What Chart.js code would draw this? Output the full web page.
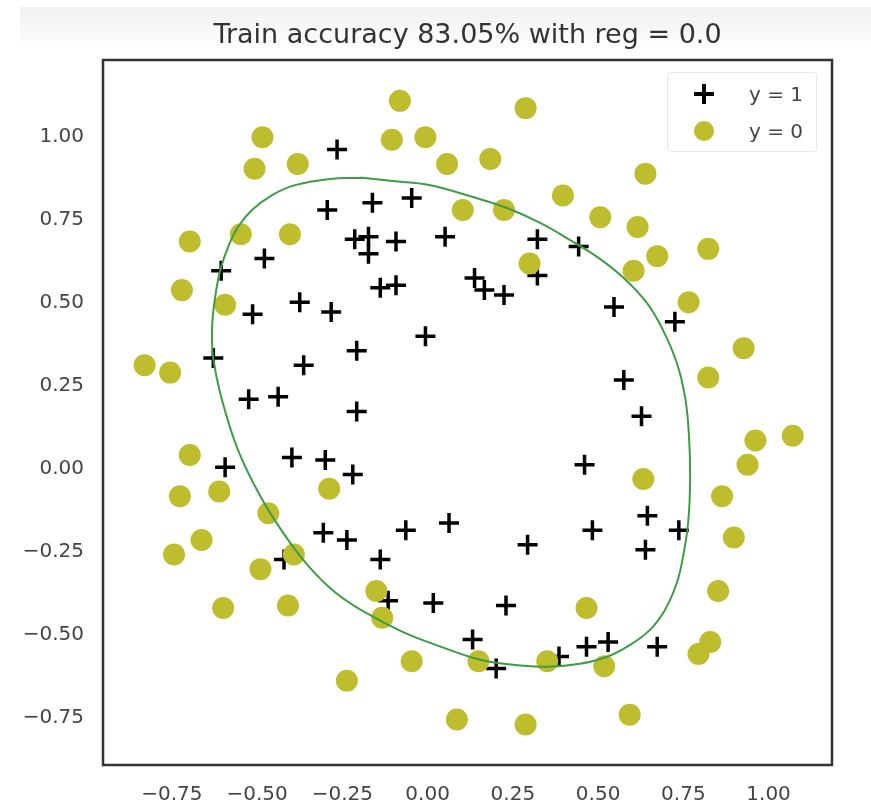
<!DOCTYPE html>
<html>
<head>
<meta charset="utf-8">
<script src="https://cdn.jsdelivr.net/npm/chart.js@4.4.1/dist/chart.umd.min.js"></script>
<style>
  body { margin: 0; background: #fff; }
  #wrap { position: relative; width: 871px; height: 805px; }
  #band { position: absolute; left: 20px; top: 7px; width: 851px; height: 34px;
          background: linear-gradient(#f1f1f1, #fbfbfb); }
  #title { position: absolute; left: 103px; top: 18px; width: 729px; text-align: center;
           font-family: 'DejaVu Sans', sans-serif; font-size: 27px; line-height: 32px;
           color: #333; white-space: nowrap; }
  #chart { position: absolute; left: 0; top: 0; }
  #legend { position: absolute; left: 667px; top: 72px; width: 150px; height: 80px;
            box-sizing: border-box; border: 1px solid #e8e8e8; border-radius: 4px;
            background: rgba(255,255,255,0.85); font-family: 'DejaVu Sans', sans-serif;
            font-size: 20px; color: #444; }
  .row { position: absolute; left: 0; width: 100%; height: 24px; }
  .row .txt { position: absolute; left: 81px; top: 0; line-height: 24px; white-space: nowrap; }
  .sym { position: absolute; left: 26px; top: 2px; width: 20px; height: 20px; }
  .sym.dot { border-radius: 50%; }
  .sym.cross::before, .sym.cross::after { content: ''; position: absolute; background: #000; }
  .sym.cross::before { left: 0; top: 8.25px; width: 20px; height: 3.5px; }
  .sym.cross::after { left: 8.25px; top: 0; width: 3.5px; height: 20px; }
</style>
</head>
<body>
<div id="wrap">
  <div id="band"></div>
  <canvas id="chart" width="871" height="805"></canvas>
  <div id="title"></div>
  <div id="legend"></div>
</div>
<script>
const titleText = 'Train accuracy 83.05% with reg = 0.0';

// y = 1 (accepted)
const posX = [0.051267, -0.092742, -0.21371, -0.375, -0.51325, -0.52477, -0.39804, -0.30588, 0.016705, 0.13191,
  0.38537, 0.52938, 0.63882, 0.73675, 0.54666, 0.322, 0.16647, -0.046659, -0.17339, -0.47869,
  -0.60541, -0.62846, -0.59389, -0.42108, -0.11578, 0.20104, 0.46601, 0.67339, -0.13882, -0.29435,
  -0.26555, -0.16187, -0.17339, -0.28283, -0.36348, -0.30012, -0.23675, -0.06394, 0.062788, 0.22984,
  0.2932, 0.48329, 0.64459, 0.46025, 0.6273, 0.57546, 0.72523, 0.22408, 0.44297, 0.322,
  0.13767, -0.0063364, -0.092742, -0.20795, -0.20795, -0.43836, -0.21947, -0.13882];
const posY = [0.69956, 0.68494, 0.69225, 0.50219, 0.46564, 0.2098, 0.034357, -0.19225, -0.40424, -0.51389,
  -0.56506, -0.5212, -0.24342, -0.18494, 0.48757, 0.5826, 0.53874, 0.81652, 0.69956, 0.63377,
  0.59722, 0.33406, 0.005117, -0.27266, -0.39693, -0.60161, -0.53582, -0.53582, 0.54605, 0.77997,
  0.96272, 0.8019, 0.64839, 0.47295, 0.31213, 0.027047, -0.21418, -0.18494, -0.16301, -0.41155,
  -0.2288, -0.18494, -0.14108, 0.012427, 0.15863, 0.26827, 0.44371, 0.52412, 0.67032, 0.69225,
  0.57529, 0.39985, 0.55336, 0.35599, 0.17325, 0.21711, -0.016813, -0.27266];

// y = 0 (rejected)
const negX = [0.18376, 0.22408, 0.29896, 0.50634, 0.61578, 0.60426, 0.76555, 0.92684, 0.82316, 0.96141,
  0.93836, 0.86348, 0.89804, 0.85196, 0.82892, 0.79435, 0.59274, 0.51786, 0.46601, 0.35081,
  0.28744, 0.085829, 0.14919, -0.13306, -0.40956, -0.39228, -0.74366, -0.69758, -0.75518, -0.69758,
  -0.4038, -0.38076, -0.50749, -0.54781, 0.10311, 0.057028, -0.10484, -0.081221, 0.28744, 0.39689,
  0.63882, 0.82316, 0.67339, 1.0709, -0.046659, -0.23675, -0.15035, -0.49021, -0.46717, -0.28859,
  -0.61118, -0.66302, -0.59965, -0.72638, -0.83007, -0.72062, -0.59389, -0.48445, -0.0063364, 0.63265];
const negY = [0.93348, 0.77997, 0.61915, 0.75804, 0.7288, 0.59722, 0.50219, 0.3633, 0.27558, 0.085526,
  0.012427, -0.082602, -0.20687, -0.36769, -0.5212, -0.55775, -0.7405, -0.5943, -0.41886, -0.57968,
  -0.76974, -0.75512, -0.57968, -0.4481, -0.41155, -0.25804, -0.25804, 0.041667, 0.2902, 0.68494,
  0.70687, 0.91886, 0.90424, 0.70687, 0.77997, 0.91886, 0.99196, 1.1089, 1.087, 0.82383,
  0.88962, 0.66301, 0.64108, 0.10015, -0.57968, -0.63816, -0.36769, -0.3019, -0.13377, -0.06,
  -0.067982, -0.21418, -0.41886, -0.082602, 0.31213, 0.53874, 0.49488, 0.99927, 0.99927, -0.030612];

// decision boundary (closed loop)
const boundX = [-0.192, -0.095, 0.001, 0.133, 0.233, 0.330, 0.427, 0.497, 0.572,
  0.643, 0.690, 0.731, 0.755, 0.766, 0.770, 0.764, 0.749, 0.731,
  0.696, 0.652, 0.594, 0.526, 0.447, 0.350, 0.251, 0.154, 0.040,
  -0.075, -0.180, -0.270, -0.350, -0.420, -0.490, -0.556, -0.603, -0.629, -0.632,
  -0.623, -0.608, -0.585, -0.556, -0.515, -0.456, -0.389, -0.292, -0.192];
const boundY = [0.877, 0.867, 0.856, 0.819, 0.786, 0.741, 0.684, 0.639, 0.578,
  0.500, 0.419, 0.319, 0.217, 0.110, -0.030, -0.163, -0.265, -0.343,
  -0.425, -0.485, -0.530, -0.566, -0.587, -0.596, -0.590, -0.575, -0.536,
  -0.490, -0.434, -0.373, -0.292, -0.198, -0.083, 0.057, 0.208, 0.337, 0.428,
  0.518, 0.599, 0.669, 0.729, 0.780, 0.825, 0.855, 0.873, 0.877];

const xTicks = [-0.75, -0.5, -0.25, 0, 0.25, 0.5, 0.75, 1.0];
const xTickLabels = ['\u22120.75', '\u22120.50', '\u22120.25', '0.00', '0.25', '0.50', '0.75', '1.00'];
const yTicks = [-0.75, -0.5, -0.25, 0, 0.25, 0.5, 0.75, 1.0];
const yTickLabels = ['\u22120.75', '\u22120.50', '\u22120.25', '0.00', '0.25', '0.50', '0.75', '1.00'];

const posColor = '#000000';
const negColor = '#bdbd2e';
const lineColor = '#3f9c46';

function toPoints(xs, ys) {
  return xs.map((x, i) => ({ x: x, y: ys[i] }));
}

const framePlugin = {
  id: 'frame',
  afterDraw(chart) {
    const { ctx, chartArea: a } = chart;
    ctx.save();
    ctx.strokeStyle = '#333';
    ctx.lineWidth = 2.5;
    ctx.strokeRect(a.left, a.top, a.right - a.left, a.bottom - a.top);
    ctx.restore();
  }
};

const tickFont = { family: 'DejaVu Sans', size: 20 };

const chart = new Chart(document.getElementById('chart'), {
  type: 'scatter',
  data: {
    datasets: [
      {
        label: 'y = 1',
        data: toPoints(posX, posY),
        pointStyle: 'cross',
        pointRadius: 10,
        pointHoverRadius: 10,
        borderColor: posColor,
        backgroundColor: posColor,
        borderWidth: 3.5,
        order: 3
      },
      {
        label: 'y = 0',
        data: toPoints(negX, negY),
        pointStyle: 'circle',
        pointRadius: 11,
        pointHoverRadius: 11,
        borderWidth: 0,
        borderColor: negColor,
        backgroundColor: negColor,
        order: 2
      },
      {
        label: 'boundary',
        data: toPoints(boundX, boundY),
        showLine: true,
        pointRadius: 0,
        borderColor: lineColor,
        borderWidth: 2,
        tension: 0.4,
        fill: false,
        order: 1
      }
    ]
  },
  options: {
    responsive: false,
    animation: false,
    events: [],
    layout: { padding: { top: 60, right: 39, bottom: 0, left: 0 } },
    plugins: {
      legend: { display: false },
      tooltip: { enabled: false },
      title: { display: false }
    },
    scales: {
      x: {
        type: 'linear',
        min: -0.952,
        max: 1.186,
        afterBuildTicks: s => { s.ticks = xTicks.map(v => ({ value: v })); },
        afterFit: s => { s.height = 40; },
        grid: { display: false, drawTicks: false },
        border: { display: false },
        ticks: {
          autoSkip: false,
          maxRotation: 0,
          padding: 18,
          color: '#444',
          font: tickFont,
          callback: (v, i) => xTickLabels[i]
        }
      },
      y: {
        type: 'linear',
        min: -0.892,
        max: 1.232,
        afterBuildTicks: s => { s.ticks = yTicks.map(v => ({ value: v })); },
        afterFit: s => { s.width = 103; },
        grid: { display: false, drawTicks: false },
        border: { display: false },
        ticks: {
          autoSkip: false,
          padding: 19,
          color: '#444',
          font: tickFont,
          callback: (v, i) => yTickLabels[i]
        }
      }
    }
  },
  plugins: [framePlugin]
});

// title centred over the axes box, as in the original figure
document.getElementById('title').textContent = titleText;

// legend box in the upper right corner, built from the two marker datasets
const legendEl = document.getElementById('legend');
chart.data.datasets.slice(0, 2).forEach((ds, i) => {
  const row = document.createElement('div');
  row.className = 'row';
  row.style.top = (i === 0 ? 9 : 46) + 'px';
  const sym = document.createElement('span');
  sym.className = 'sym ' + (ds.pointStyle === 'cross' ? 'cross' : 'dot');
  if (ds.pointStyle !== 'cross') sym.style.background = ds.backgroundColor;
  const txt = document.createElement('span');
  txt.className = 'txt';
  txt.textContent = ds.label;
  row.appendChild(sym);
  row.appendChild(txt);
  legendEl.appendChild(row);
});
</script>
</body>
</html>
